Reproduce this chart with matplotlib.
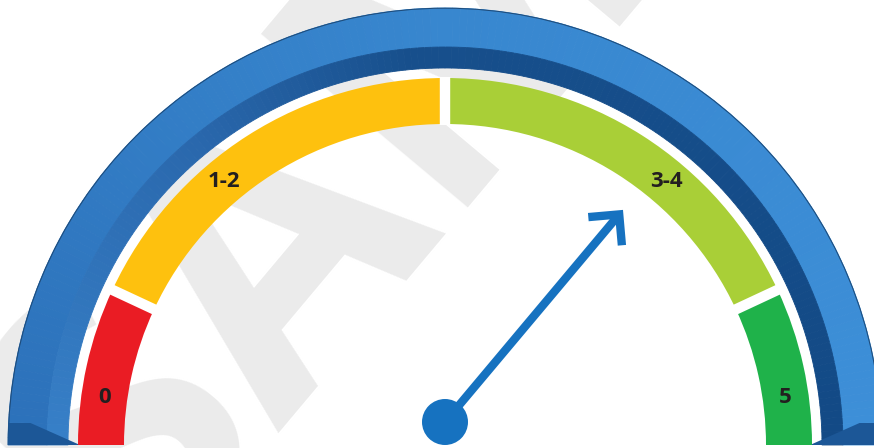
import matplotlib
matplotlib.use("Agg")
import matplotlib.pyplot as plt
import numpy as np
from matplotlib.patches import Wedge, Circle, Polygon
from matplotlib.colors import to_rgb

# gauge data
labels = ["0", "1-2", "3-4", "5"]
spans_deg = [25, 65, 65, 25]          # angular size of each band, from the left end
band_colors = ["#ea1c24", "#fec10e", "#a9cf37", "#1fb24a"]
label_deg = [172, 130, 50, 8]         # where each label sits on the band
needle_deg = 50

W, H = 874, 448
cx, cy = 445, 3                       # gauge centre (y measured upward)
r_in, r_out = 321, 367                # coloured bands
rb_in, rb_mid, rb_out = 377, 398, 437  # blue frame


def lerp_colors(stops, t):
    # stops: list of (t, colour)
    for (t0, c0), (t1, c1) in zip(stops[:-1], stops[1:]):
        if t0 <= t <= t1:
            f = (t - t0) / (t1 - t0) if t1 > t0 else 0
            a, b = np.array(to_rgb(c0)), np.array(to_rgb(c1))
            return tuple(a + (b - a) * f)
    return to_rgb(stops[-1][1])


fig = plt.figure(figsize=(W / 100, H / 100), dpi=100)
ax = fig.add_axes([0, 0, 1, 1])
ax.set_xlim(0, W)
ax.set_ylim(0, H)
ax.set_aspect("equal")
ax.axis("off")

# faint watermark
ax.text(140, -130, "SAMPLE", rotation=50, rotation_mode="anchor",
        ha="left", va="baseline", fontsize=272, fontweight="bold",
        family="Open Sans", color="#ebebeb", zorder=0)

# blue frame, shaded with thin slices
outer_stops = [(0, "#3d8fd8"), (90, "#3887cf"), (180, "#2c71ba")]
inner_stops = [(0, "#134a86"), (95, "#174f8c"), (130, "#2a68ad"), (180, "#3780c8")]
step = 1.0
for a in np.arange(0, 180, step):
    mid = a + step / 2
    c1 = lerp_colors(outer_stops, mid)
    c2 = lerp_colors(inner_stops, mid)
    ax.add_patch(Wedge((cx, cy), rb_out, a, a + step, width=rb_out - rb_mid,
                       facecolor=c1, edgecolor=c1, lw=0.6, zorder=2))
    ax.add_patch(Wedge((cx, cy), rb_mid, a, a + step, width=rb_mid - rb_in,
                       facecolor=c2, edgecolor=c2, lw=0.6, zorder=2))
ax.add_patch(Wedge((cx, cy), rb_out + 0.3, 0, 180, width=1.0, facecolor="#1d4a78",
                   edgecolor="none", zorder=3))

# bevelled ends at the bottom
for side in (-1, 1):
    xo, xi = cx + side * (rb_out - 0.5), cx + side * rb_in
    ax.add_patch(Polygon([(xo, cy), (xo, cy + 22), (xo - side * 22, cy + 22), (xi - side * 12, cy)],
                         closed=True, facecolor="#1c5797", edgecolor="none", zorder=3))

# coloured bands
start = 180
for span, col in zip(spans_deg, band_colors):
    ax.add_patch(Wedge((cx, cy), r_out, start - span, start, width=r_out - r_in,
                       facecolor=col, edgecolor="none", zorder=4))
    start -= span

# white gaps between the bands
edge = 180
for span in spans_deg[:-1]:
    edge -= span
    t = np.radians(edge)
    ax.plot([cx + (r_in - 1) * np.cos(t), cx + (r_out + 1) * np.cos(t)],
            [cy + (r_in - 1) * np.sin(t), cy + (r_out + 1) * np.sin(t)],
            color="white", lw=7.5, solid_capstyle="butt", zorder=5)

# labels
r_lab = (r_in + r_out) / 2
for lab, a in zip(labels, label_deg):
    t = np.radians(a)
    ax.text(cx + r_lab * np.cos(t), cy + r_lab * np.sin(t), lab,
            ha="center", va="center", fontsize=16, fontweight="bold",
            family="Open Sans", color="#231f20", zorder=6)

# needle
hx, hy = cx, cy + 23
t = np.radians(needle_deg)
L = 271
tx, ty = hx + L * np.cos(t), hy + L * np.sin(t)
ncol = "#1672c0"
ax.plot([hx, tx - 3 * np.cos(t)], [hy, ty - 3 * np.sin(t)], color=ncol, lw=6,
        solid_capstyle="butt", zorder=7)
arm = 31
a1, a2 = t + np.radians(135), t - np.radians(135)
ax.plot([tx + arm * np.cos(a1), tx, tx + arm * np.cos(a2)],
        [ty + arm * np.sin(a1), ty, ty + arm * np.sin(a2)],
        color=ncol, lw=6, solid_joinstyle="miter", solid_capstyle="butt", zorder=7)
ax.add_patch(Circle((hx, hy), 23, facecolor=ncol, edgecolor="none", zorder=8))

fig.savefig("out.png", dpi=100)
